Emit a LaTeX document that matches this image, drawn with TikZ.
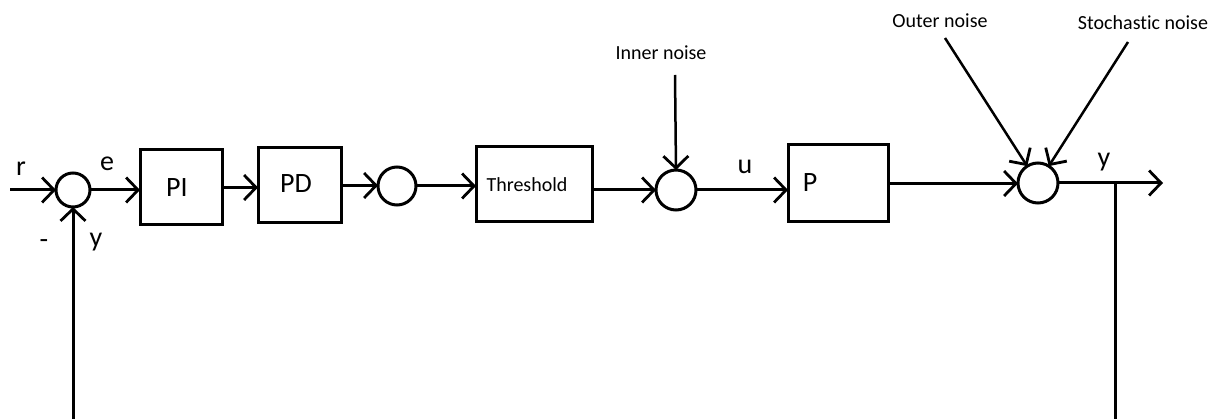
\documentclass[tikz,border=0pt]{standalone}
\usepackage{fontspec}
\setmainfont{Carlito}[Ligatures={NoCommon,NoDiscretionary,NoRare}]
\usetikzlibrary{arrows.meta,calc}
\begin{document}
\begin{tikzpicture}[x=1pt,y=-1pt,
  line width=3pt,
  blk/.style={draw,rectangle,inner sep=0pt,outer sep=0pt},
  sumj/.style={draw,circle,inner sep=0pt,outer sep=0pt},
  big/.style={font=\fontsize{28}{30}\selectfont},
  small/.style={font=\fontsize{20}{22}\selectfont},
  arr/.style={-{Straight Barb[length=12pt,width=25pt,line width=2.8pt]}},
  noiseln/.style={line width=2.5pt}]
\useasboundingbox (0,0) rectangle (1220,419);

% summing junctions
\node[sumj,minimum size=34pt] (s1) at (73,190) {};
\node[sumj,minimum size=38pt] (s2) at (397,186) {};
\node[sumj,minimum size=40pt] (s3) at (676,190) {};
\node[sumj,minimum size=40pt] (s4) at (1038,183) {};

% blocks
\node[blk,minimum width=82pt,minimum height=75pt] (PI) at (181,187.5) {};
\node[blk,minimum width=83pt,minimum height=75pt] (PD) at (299.5,185.5) {};
\node[blk,minimum width=116pt,minimum height=75pt] (Th) at (534,184.5) {};
\node[blk,minimum width=100pt,minimum height=77pt] (P) at (838,183.5) {};

% block texts
\node[big] (tPI) at (177,188) {PI};
\node[big] (tPD) at (296,184) {PD};
\node[small] (tTh) at (527,185) {Threshold};
\node[big] (tP) at (810,183) {P};

% free ends
\coordinate (rin) at (10,190);
\coordinate (yout) at (1163,183);
\coordinate (tap) at (1115,183);
\coordinate (fbb) at (1115,419);
\coordinate (fba) at (73,419);
\coordinate (inn) at (675,75);
\coordinate (outn) at (945,38);
\coordinate (stn) at (1128,42);

% connectors
\draw[arr] (rin) -- (s1.west);
\draw[arr] (s1.east) -- (s1.east -| PI.west);
\draw[arr] (PI.east) -- (PI.east -| PD.west);
\draw[arr] (PD.east) -- (PD.east -| s2.west);
\draw[arr] (s2.east) -- (s2.east -| Th.west);
\draw[arr] (Th.east |- s3.west) -- (s3.west);
\draw[arr] (s3.east) -- (s3.east -| P.west);
\draw[arr] (P.east) -- (P.east -| s4.west);
\draw[arr] (s4.east) -- (yout);
\draw (tap) -- (fbb);
\draw[arr] (fba) -- (s1.south);
\draw[arr,noiseln] (inn) -- (s3.north);
\draw[arr,noiseln] (outn) -- (s4);
\draw[arr,noiseln] (stn) -- (s4);

% signal labels
\node[big] (lr) at (21,169) {r};
\node[big] (le) at (107,164) {e};
\node[big,anchor=base] (lm) at (44,249) {-};
\node[big] (ly1) at (96,242) {y};
\node[big] (lu) at (745,167) {u};
\node[big] (ly2) at (1104,162) {y};

% noise labels
\node[small] (lin) at (661,53) {Inner noise};
\node[small] (lon) at (940,21) {Outer noise};
\node[small] (lsn) at (1143,23) {Stochastic noise};
\end{tikzpicture}
\end{document}
